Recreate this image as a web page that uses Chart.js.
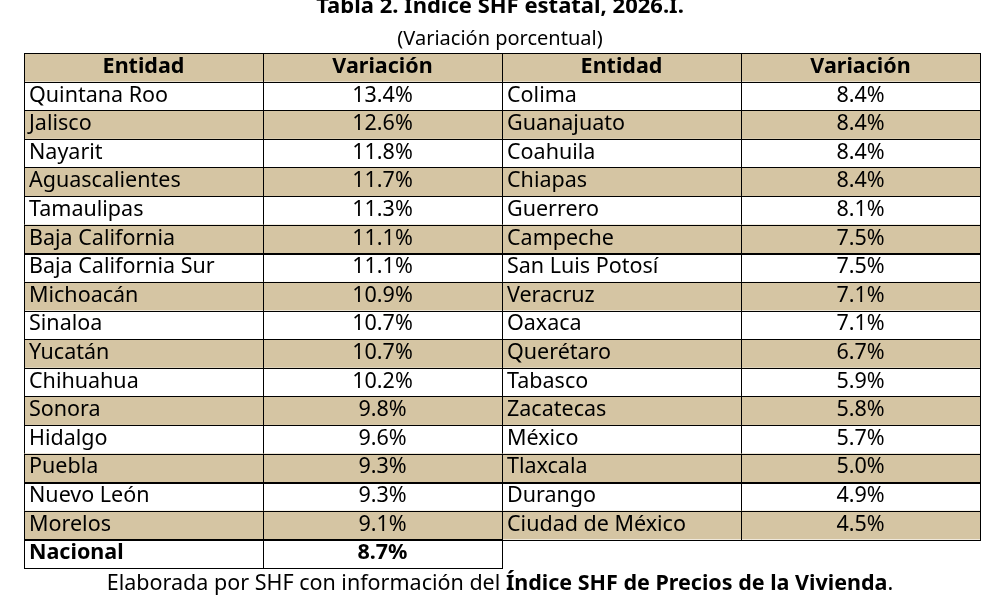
<!DOCTYPE html>
<html>
<head>
<meta charset="utf-8">
<script src="https://cdn.jsdelivr.net/npm/chart.js@4/dist/chart.umd.min.js"></script>
<style>
  body { margin: 0; background: #fff; }
  #wrap { width: 1000px; height: 600px; }
</style>
</head>
<body>
<div id="wrap"><canvas id="tabla"></canvas></div>
<script>
// ─── Data ───────────────────────────────
const headers = ["Entidad", "Variación", "Entidad", "Variación"];
const leftStates = ["Quintana Roo", "Jalisco", "Nayarit", "Aguascalientes", "Tamaulipas", "Baja California",
  "Baja California Sur", "Michoacán", "Sinaloa", "Yucatán", "Chihuahua", "Sonora", "Hidalgo", "Puebla",
  "Nuevo León", "Morelos"];
const leftValues = [13.4, 12.6, 11.8, 11.7, 11.3, 11.1, 11.1, 10.9, 10.7, 10.7, 10.2, 9.8, 9.6, 9.3, 9.3, 9.1];
const rightStates = ["Colima", "Guanajuato", "Coahuila", "Chiapas", "Guerrero", "Campeche", "San Luis Potosí",
  "Veracruz", "Oaxaca", "Querétaro", "Tabasco", "Zacatecas", "México", "Tlaxcala", "Durango", "Ciudad de México"];
const rightValues = [8.4, 8.4, 8.4, 8.4, 8.1, 7.5, 7.5, 7.1, 7.1, 6.7, 5.9, 5.8, 5.7, 5.0, 4.9, 4.5];
const nationalLabel = "Nacional";
const nationalValue = 8.7;

const TAN = "#d5c5a3";
const FONT = "'Noto Sans', 'Open Sans', sans-serif";

// ─── Table plugin ───────────────────────
const tablePlugin = {
  id: "tabla",
  afterDraw(chart) {
    const { ctx, scales: { x, y } } = chart;
    const nRows = leftStates.length + 2;
    const cell = (c, r) => ({
      x0: x.getPixelForValue(c), x1: x.getPixelForValue(c + 1),
      y0: y.getPixelForValue(r), y1: y.getPixelForValue(r + 1)
    });
    ctx.save();
    ctx.textBaseline = "middle";

    const drawCell = (c, r, text, opts) => {
      const b = cell(c, r);
      if (opts.fill) { ctx.fillStyle = opts.fill; ctx.fillRect(b.x0, b.y0, b.x1 - b.x0, b.y1 - b.y0); }
      ctx.strokeStyle = "#000"; ctx.lineWidth = 1;
      ctx.strokeRect(Math.round(b.x0) + 0.5, Math.round(b.y0) + 0.5, Math.round(b.x1 - b.x0), Math.round(b.y1 - b.y0));
      ctx.fillStyle = "#000";
      ctx.font = (opts.bold ? "bold " : "") + "21.5px " + FONT;
      const cy = (b.y0 + b.y1) / 2 - 0.5;
      if (opts.center) { ctx.textAlign = "center"; ctx.fillText(text, (b.x0 + b.x1) / 2, cy); }
      else { ctx.textAlign = "left"; ctx.fillText(text, b.x0 + 5, cy); }
    };

    headers.forEach((h, c) => drawCell(c, 0, h, { fill: TAN, bold: true, center: true }));
    leftStates.forEach((s, i) => {
      const fill = i % 2 === 1 ? TAN : null;
      drawCell(0, i + 1, s, { fill });
      drawCell(1, i + 1, leftValues[i].toFixed(1) + "%", { fill, center: true });
      drawCell(2, i + 1, rightStates[i], { fill });
      drawCell(3, i + 1, rightValues[i].toFixed(1) + "%", { fill, center: true });
    });
    drawCell(0, nRows - 1, nationalLabel, { bold: true });
    drawCell(1, nRows - 1, nationalValue.toFixed(1) + "%", { bold: true, center: true });

    // Titles and footer
    ctx.fillStyle = "#000"; ctx.textAlign = "center";
    ctx.font = "bold 22px " + FONT;
    ctx.fillText("Tabla 2. Índice SHF estatal, 2026.I.", 500, 7);
    ctx.font = "20px " + FONT;
    ctx.fillText("(Variación porcentual)", 500, 39);
    const pre = "Elaborada por SHF con información del ";
    const bold = "Índice SHF de Precios de la Vivienda";
    ctx.font = "21.5px " + FONT; const w1 = ctx.measureText(pre).width;
    ctx.font = "bold 21.5px " + FONT; const w2 = ctx.measureText(bold).width;
    ctx.font = "21.5px " + FONT; const w3 = ctx.measureText(".").width;
    let sx = 500 - (w1 + w2 + w3) / 2;
    ctx.textAlign = "left";
    ctx.fillText(pre, sx, 584);
    ctx.font = "bold 21.5px " + FONT; ctx.fillText(bold, sx + w1, 584);
    ctx.font = "21.5px " + FONT; ctx.fillText(".", sx + w1 + w2, 584);
    ctx.restore();
  }
};

// ─── Chart ──────────────────────────────
new Chart(document.getElementById("tabla"), {
  type: "scatter",
  data: { datasets: [] },
  options: {
    responsive: true,
    maintainAspectRatio: false,
    animation: false,
    layout: { padding: { left: 24, right: 20, top: 53, bottom: 32 } },
    plugins: { legend: { display: false }, tooltip: { enabled: false } },
    scales: {
      x: { type: "linear", min: 0, max: headers.length, display: false },
      y: { type: "linear", min: 0, max: leftStates.length + 2, reverse: true, display: false }
    }
  },
  plugins: [tablePlugin]
});
</script>
</body>
</html>
